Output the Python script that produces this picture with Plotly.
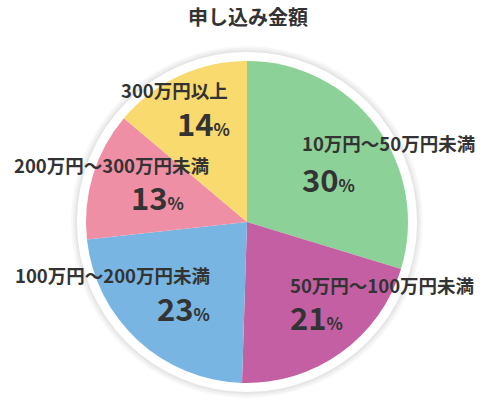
import plotly.graph_objects as go

TITLE = "申し込み金額"
LABELS = ["10万円～50万円未満", "50万円～100万円未満", "100万円～200万円未満",
          "200万円～300万円未満", "300万円以上"]
VALUES = [30, 21, 23, 13, 14]
COLORS = ["#8cd298", "#c45fa4", "#78b5e2", "#ee8fa6", "#f9da6e"]

W, H = 500, 411
CX, CY, R = 247, 222, 161  # pie centre / radius in pixels (from top-left)

# label line: (x, y, anchor); percent line: (x, y, anchor)  -- pixels from top-left
LABEL_POS = [(300, 143, "left"), (288, 285, "left"), (212, 275, "right"),
             (211, 165, "right"), (230, 90, "right")]
PCT_POS = [(300, 178, "left"), (288, 316, "left"), (212, 307, "right"),
           (186, 196, "right"), (232, 122, "right")]

FONT = "Noto Sans CJK JP, sans-serif"
TEXT = "#333333"


def px(x):
    return x / W


def py(y):
    return 1 - y / H


fig = go.Figure(go.Pie(
    labels=LABELS,
    values=VALUES,
    marker=dict(colors=COLORS, line=dict(width=0)),
    sort=False,
    direction="clockwise",
    rotation=0,
    textinfo="none",
    hoverinfo="label+percent",
    showlegend=False,
    domain=dict(x=[px(CX - R), px(CX + R)], y=[py(CY + R), py(CY - R)]),
))

# soft white ring with faint shadow behind the pie
shapes = []
for rad, col in [(176, "#f8f8f8"), (174, "#f0f0f0"), (172, "#e6e6e6"), (170, "#ffffff")]:
    shapes.append(dict(type="circle", xref="paper", yref="paper", layer="below",
                       x0=px(CX - rad), x1=px(CX + rad), y0=py(CY + rad), y1=py(CY - rad),
                       fillcolor=col, line=dict(width=0)))

annotations = [dict(text="<b>" + TITLE + "</b>", x=px(248), y=py(17), xref="paper", yref="paper",
                    xanchor="center", yanchor="middle", showarrow=False,
                    font=dict(family=FONT, size=20, color=TEXT))]

for lab, val, (lx, ly, lside), (qx, qy, qside) in zip(LABELS, VALUES, LABEL_POS, PCT_POS):
    annotations.append(dict(
        text="<b>" + lab + "</b>", x=px(lx), y=py(ly), xref="paper", yref="paper",
        xanchor=lside, yanchor="middle", showarrow=False,
        font=dict(family=FONT, size=18.5, color=TEXT)))
    annotations.append(dict(
        text="<b>" + str(val) + "<span style='font-size:17px'>%</span></b>",
        x=px(qx), y=py(qy), xref="paper", yref="paper",
        xanchor=qside, yanchor="middle", showarrow=False,
        font=dict(family=FONT, size=31, color=TEXT)))

fig.update_layout(
    width=W, height=H,
    margin=dict(l=0, r=0, t=0, b=0),
    paper_bgcolor="white",
    plot_bgcolor="white",
    shapes=shapes,
    annotations=annotations,
)

fig.write_html("out.html", config={"displayModeBar": False},
               post_script="document.body.style.margin='0';")
